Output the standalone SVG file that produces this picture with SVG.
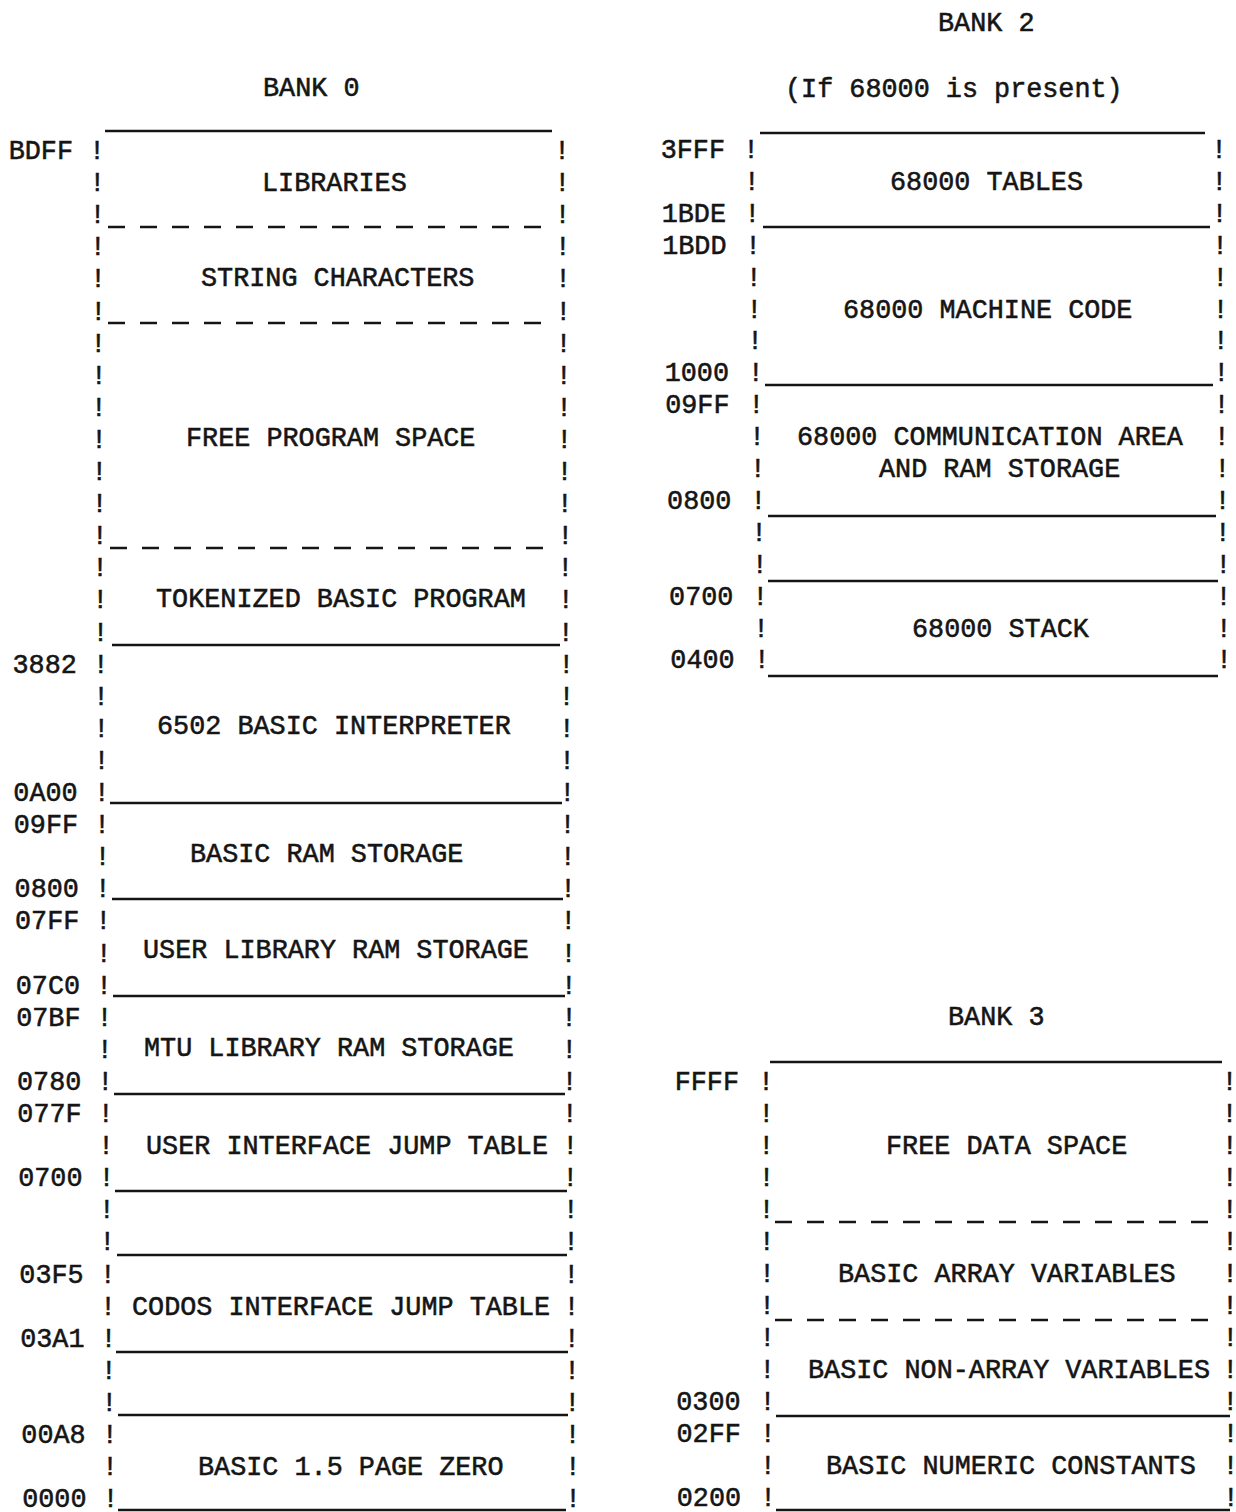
<svg xmlns="http://www.w3.org/2000/svg" width="1236" height="1512" viewBox="0 0 1236 1512">
<style>
text{font-family:"Liberation Mono","DejaVu Sans Mono",monospace;font-size:26.8px;fill:#151515;stroke:#151515;stroke-width:0.55}
.b{text-anchor:middle}
.a{text-anchor:end}
.r{stroke:#151515;stroke-width:2.6;fill:none}
.d{stroke:#151515;stroke-width:2.6;fill:none;stroke-dasharray:17 15}
</style>
<rect width="1236" height="1512" fill="#ffffff"/>

<g id="titles">
<text x="263" y="96">BANK 0</text>
<text x="938" y="31">BANK 2</text>
<text x="785" y="97">(If 68000 is present)</text>
<text x="948" y="1025">BANK 3</text>
</g>

<g id="bank0">
<g id="bank0-frame">
<text class="b" x="97 97.2 97.5 97.7 98 98.2 98.4 98.7 98.9 99.1 99.4 99.6 99.8 100.1 100.3 100.6 100.8 101 101.3 101.5 101.7 102.1 102.5 102.9 103.3 103.7 104.1 104.5 104.9 105.3 105.7 106.1 106.5 106.9 107.3 107.7 108.1 108.5 108.9 109.3 109.7 110.1 110.5" y="159 191 223 255 287 320 352 384 416 448 480 512 544 576 608 641 673 705 737 769 801 833 865 897 929 962 994 1026 1058 1090 1122 1154 1186 1218 1250 1283 1315 1347 1379 1411 1443 1475 1507">!!!!!!!!!!!!!!!!!!!!!!!!!!!!!!!!!!!!!!!!!!!</text>
<text class="b" x="562 562.3 562.5 562.8 563.1 563.3 563.6 563.8 564.1 564.4 564.6 564.9 565.2 565.4 565.7 565.9 566.2 566.5 566.7 567 567.3 567.5 567.8 568.1 568.3 568.6 568.9 569.1 569.4 569.6 569.9 570.2 570.4 570.7 571 571.2 571.5 571.7 572 572.3 572.5 572.8 573.1" y="159 191 223 255 287 320 352 384 416 448 480 512 544 576 608 641 673 705 737 769 801 833 865 897 929 962 994 1026 1058 1090 1122 1154 1186 1218 1250 1283 1315 1347 1379 1411 1443 1475 1507">!!!!!!!!!!!!!!!!!!!!!!!!!!!!!!!!!!!!!!!!!!!</text>
<line class="r" x1="105" y1="131" x2="552" y2="131"/>
</g>
<g id="bank0-addresses">
<text class="a" x="73" y="159">BDFF</text>
<text class="a" x="76.8" y="673">3882</text>
<text class="a" x="77.7" y="801">0A00</text>
<text class="a" x="78.1" y="833">09FF</text>
<text class="a" x="78.9" y="897">0800</text>
<text class="a" x="79.3" y="929">07FF</text>
<text class="a" x="80.1" y="994">07C0</text>
<text class="a" x="80.5" y="1026">07BF</text>
<text class="a" x="81.3" y="1090">0780</text>
<text class="a" x="81.7" y="1122">077F</text>
<text class="a" x="82.5" y="1186">0700</text>
<text class="a" x="83.7" y="1283">03F5</text>
<text class="a" x="84.5" y="1347">03A1</text>
<text class="a" x="85.7" y="1443">00A8</text>
<text class="a" x="86.5" y="1507">0000</text>
</g>
<g id="b0-libraries"><text x="262" y="191">LIBRARIES</text><line class="d" x1="108" y1="227" x2="541" y2="227"/></g>
<g id="b0-strings"><text x="201" y="286">STRING CHARACTERS</text><line class="d" x1="108" y1="323" x2="541" y2="323"/></g>
<g id="b0-free"><text x="186" y="446">FREE PROGRAM SPACE</text><line class="d" x1="110" y1="548" x2="543" y2="548"/></g>
<g id="b0-tokenized"><text x="156" y="607">TOKENIZED BASIC PROGRAM</text><line class="r" x1="112" y1="645" x2="560" y2="645"/></g>
<g id="b0-interp"><text x="157" y="734">6502 BASIC INTERPRETER</text><line class="r" x1="110" y1="803" x2="562" y2="803"/></g>
<g id="b0-basicram"><text x="190" y="862">BASIC RAM STORAGE</text><line class="r" x1="112" y1="899" x2="563" y2="899"/></g>
<g id="b0-userlib"><text x="143" y="958">USER LIBRARY RAM STORAGE</text><line class="r" x1="113" y1="996" x2="565" y2="996"/></g>
<g id="b0-mtulib"><text x="144" y="1056">MTU LIBRARY RAM STORAGE</text><line class="r" x1="114" y1="1094" x2="565" y2="1094"/></g>
<g id="b0-userjump"><text x="146" y="1154">USER INTERFACE JUMP TABLE</text><line class="r" x1="115" y1="1191" x2="567" y2="1191"/></g>
<g id="b0-gap1"><line class="r" x1="117" y1="1255" x2="567" y2="1255"/></g>
<g id="b0-codos"><text x="132" y="1315">CODOS INTERFACE JUMP TABLE</text><line class="r" x1="116" y1="1352" x2="568" y2="1352"/></g>
<g id="b0-gap2"><line class="r" x1="118" y1="1415" x2="568" y2="1415"/></g>
<g id="b0-page0"><text x="198" y="1475">BASIC 1.5 PAGE ZERO</text><line class="r" x1="118" y1="1510" x2="566" y2="1510"/></g>
</g>

<g id="bank2">
<g id="bank2-frame">
<text class="b" x="751 751.7 752.3 753 753.7 754.4 755 755.7 756.4 757 757.7 758.4 759 759.7 760.4 761 761.7" y="158 190 222 254 286 318 349 381 413 445 477 509 541 573 605 637 668">!!!!!!!!!!!!!!!!!</text>
<text class="b" x="1219 1219.3 1219.6 1220 1220.3 1220.6 1220.9 1221.2 1221.6 1221.9 1222.2 1222.5 1222.8 1223.2 1223.5 1223.8 1224.1" y="158 190 222 254 286 318 349 381 413 445 477 509 541 573 605 637 668">!!!!!!!!!!!!!!!!!</text>
<line class="r" x1="760" y1="133" x2="1205" y2="133"/>
</g>
<g id="bank2-addresses">
<text class="a" x="725" y="158">3FFF</text>
<text class="a" x="726" y="222">1BDE</text>
<text class="a" x="726.5" y="254">1BDD</text>
<text class="a" x="729" y="381">1000</text>
<text class="a" x="729.5" y="413">09FF</text>
<text class="a" x="731.4" y="509">0800</text>
<text class="a" x="733.4" y="605">0700</text>
<text class="a" x="734.7" y="668">0400</text>
</g>
<g id="b2-tables"><text x="890" y="190">68000 TABLES</text><line class="r" x1="763" y1="227" x2="1210" y2="227"/></g>
<g id="b2-code"><text x="843" y="318">68000 MACHINE CODE</text><line class="r" x1="765" y1="385" x2="1213" y2="385"/></g>
<g id="b2-comm"><text x="797" y="445">68000 COMMUNICATION AREA</text><text x="879" y="477">AND RAM STORAGE</text><line class="r" x1="768" y1="516" x2="1216" y2="516"/></g>
<g id="b2-gap"><line class="r" x1="768" y1="581" x2="1218" y2="581"/></g>
<g id="b2-stack"><text x="912" y="637">68000 STACK</text><line class="r" x1="768" y1="676" x2="1218" y2="676"/></g>
</g>

<g id="bank3">
<g id="bank3-frame">
<text class="b" x="766 766.2 766.3 766.5 766.6 766.8 767 767.1 767.3 767.4 767.6 767.8 767.9 768.1" y="1090 1122 1154 1186 1218 1250 1282 1314 1346 1378 1410 1442 1474 1506">!!!!!!!!!!!!!!</text>
<text class="b" x="1229.5 1229.6 1229.7 1229.8 1229.9 1230 1230 1230.1 1230.2 1230.3 1230.4 1230.5 1230.6 1230.7" y="1090 1122 1154 1186 1218 1250 1282 1314 1346 1378 1410 1442 1474 1506">!!!!!!!!!!!!!!</text>
<line class="r" x1="770" y1="1062" x2="1222" y2="1062"/>
</g>
<g id="bank3-addresses">
<text class="a" x="739" y="1090">FFFF</text>
<text class="a" x="740.6" y="1410">0300</text>
<text class="a" x="740.8" y="1442">02FF</text>
<text class="a" x="741.1" y="1506">0200</text>
</g>
<g id="b3-free"><text x="886" y="1154">FREE DATA SPACE</text><line class="d" x1="775" y1="1222" x2="1215" y2="1222"/></g>
<g id="b3-array"><text x="838" y="1282">BASIC ARRAY VARIABLES</text><line class="d" x1="775" y1="1320" x2="1215" y2="1320"/></g>
<g id="b3-nonarray"><text x="808" y="1378">BASIC NON-ARRAY VARIABLES</text><line class="r" x1="776" y1="1416" x2="1230" y2="1416"/></g>
<g id="b3-const"><text x="826" y="1474">BASIC NUMERIC CONSTANTS</text><line class="r" x1="776" y1="1510" x2="1230" y2="1510"/></g>
</g>
</svg>
